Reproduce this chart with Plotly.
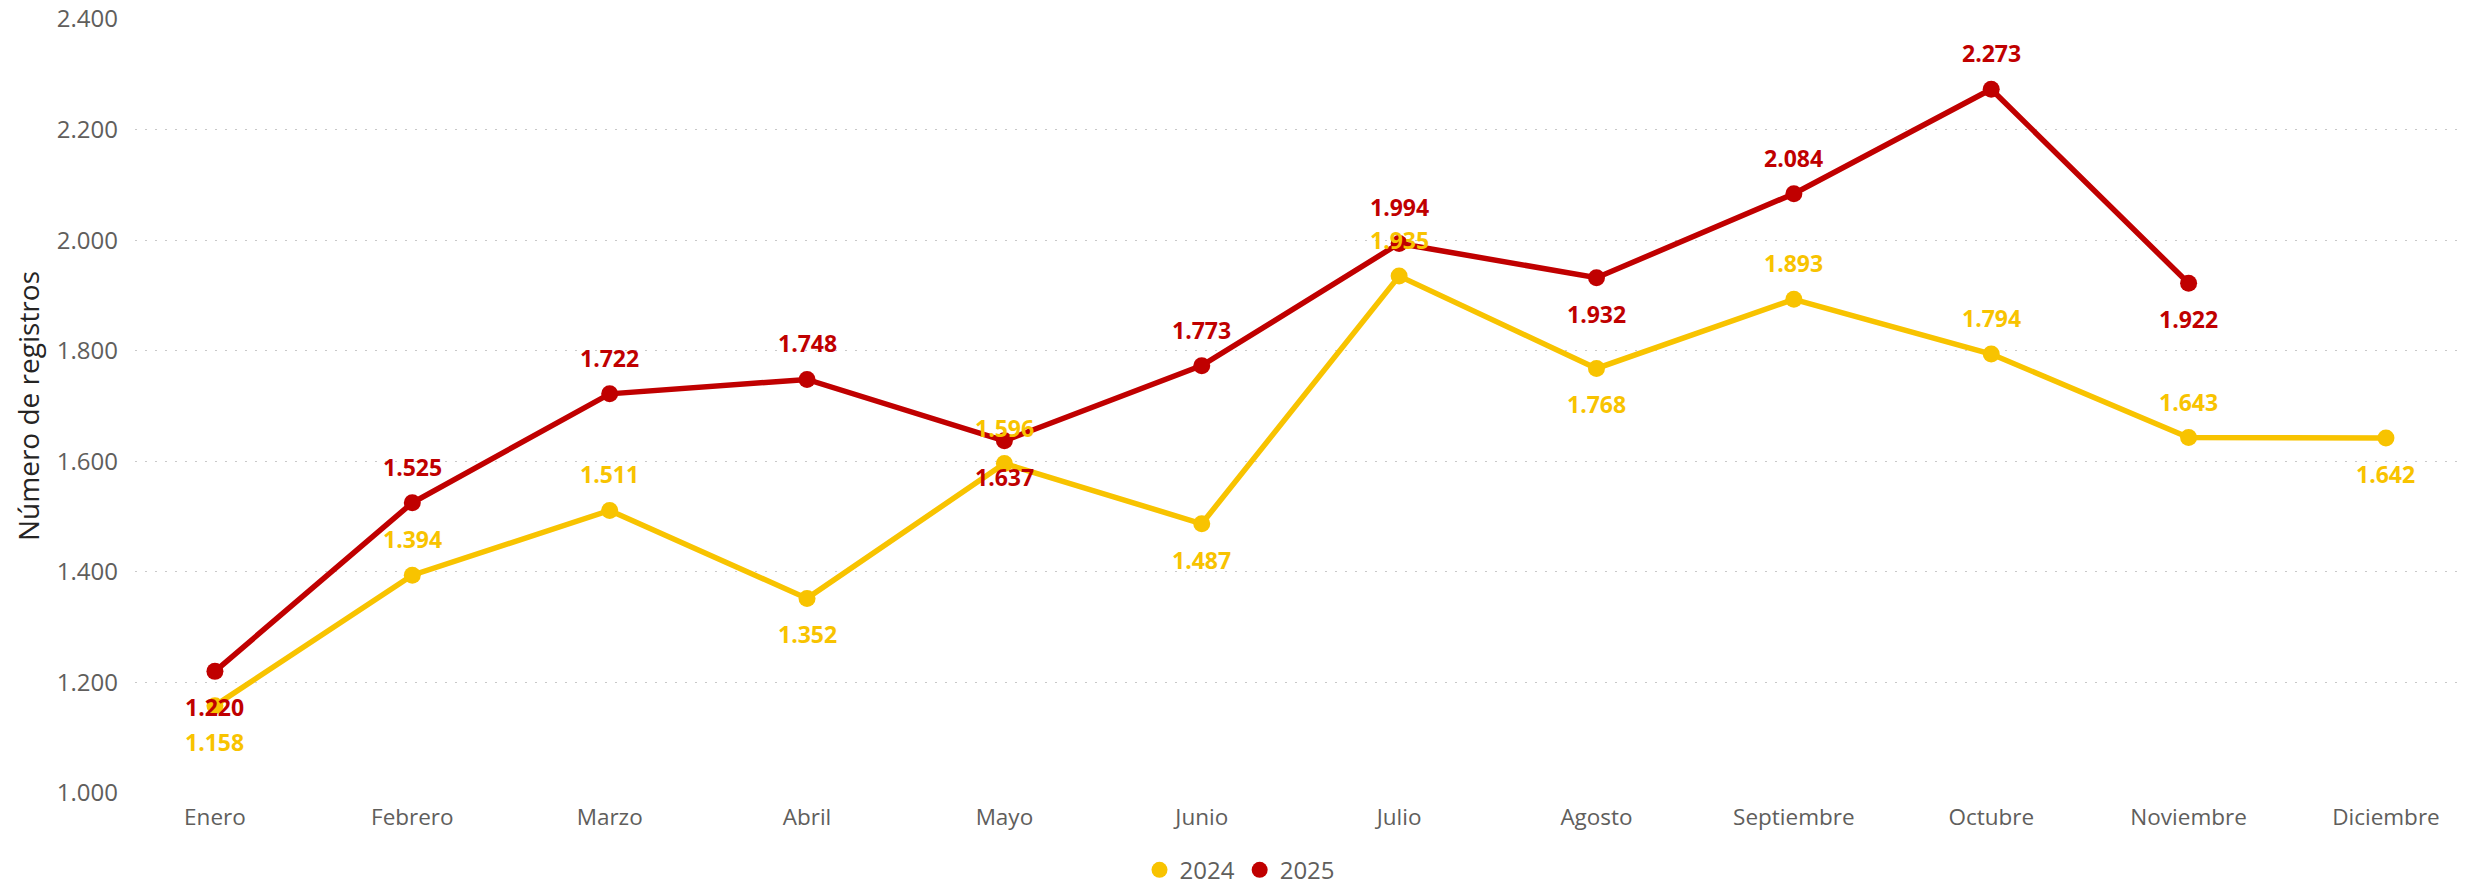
import plotly.graph_objects as go

months = ["Enero", "Febrero", "Marzo", "Abril", "Mayo", "Junio", "Julio",
          "Agosto", "Septiembre", "Octubre", "Noviembre", "Diciembre"]
vals_2024 = [1158, 1394, 1511, 1352, 1596, 1487, 1935, 1768, 1893, 1794, 1643, 1642]
vals_2025 = [1220, 1525, 1722, 1748, 1637, 1773, 1994, 1932, 2084, 2273, 1922, None]
pos_2024 = ["b", "t", "t", "b", "t", "b", "t", "b", "t", "t", "t", "b"]
pos_2025 = ["b", "t", "t", "t", "b", "t", "t", "b", "t", "t", "b", None]
y_ticks = [1000, 1200, 1400, 1600, 1800, 2000, 2200, 2400]

C24 = "#F8C300"
C25 = "#C00000"
FONT = "Open Sans"

def fmt(v):
    return f"{v:,}".replace(",", ".")

x_idx = list(range(len(months)))

fig = go.Figure()
for name, vals, col in [("2024", vals_2024, C24), ("2025", vals_2025, C25)]:
    fig.add_trace(go.Scatter(
        x=x_idx, y=vals, mode="lines+markers", name=name, showlegend=False,
        line=dict(color=col, width=5.5), marker=dict(color=col, size=17),
        connectgaps=False, hoverinfo="skip"))
for name, col in [("2024", C24), ("2025", C25)]:
    fig.add_trace(go.Scatter(x=[None], y=[None], mode="markers", name=name,
                             marker=dict(color=col, size=16), showlegend=True))

annotations = []
for vals, pos, col in [(vals_2024, pos_2024, C24), (vals_2025, pos_2025, C25)]:
    for i, (v, p) in enumerate(zip(vals, pos)):
        if v is None:
            continue
        annotations.append(dict(
            x=i, y=v, xref="x", yref="y", text=fmt(v), showarrow=False,
            yshift=36 if p == "t" else -36,
            font=dict(family=FONT, size=23, color=col, weight="bold")))

fig.update_layout(
    width=2480, height=888,
    margin=dict(l=135, r=22, t=19, b=95, autoexpand=False),
    paper_bgcolor="white", plot_bgcolor="white",
    font=dict(family=FONT, color="#605E5C"),
    annotations=annotations,
    showlegend=True,
    legend=dict(orientation="h", xref="container", yref="container",
                x=0.5, xanchor="center", y=0.02, yanchor="middle",
                font=dict(family=FONT, size=24, color="#605E5C"),
                itemwidth=30, tracegroupgap=0),
    xaxis=dict(
        tickmode="array", tickvals=x_idx, ticktext=months,
        range=[-0.405, 11.365], showgrid=False, zeroline=False, showline=False,
        ticks="", tickfont=dict(family=FONT, size=22.5, color="#605E5C"),
        ticklabelstandoff=8, automargin=False),
    yaxis=dict(
        range=[1000, 2400], tickvals=y_ticks, ticktext=[fmt(t) for t in y_ticks],
        showgrid=True, gridcolor="#C8C8C8", gridwidth=1.3, griddash="2px,8px",
        zeroline=False, showline=False, ticks="",
        tickfont=dict(family=FONT, size=24, color="#605E5C"),
        ticklabelstandoff=16, automargin=False,
        title=dict(text="Número de registros", standoff=8,
                   font=dict(family=FONT, size=28, color="#252423"))),
)

fig.write_html("out.html", config={"displayModeBar": False},
               post_script="document.body.style.margin='0';document.body.style.overflow='hidden';")
